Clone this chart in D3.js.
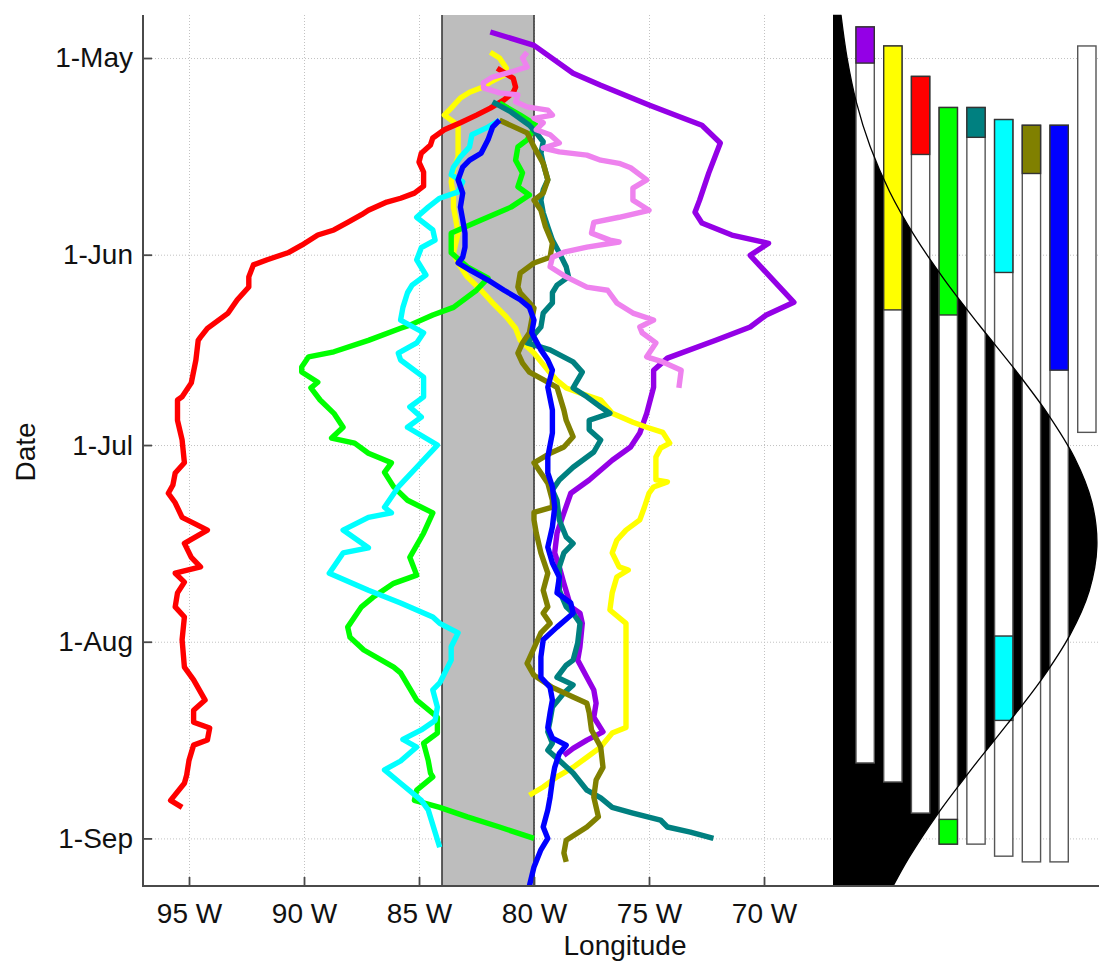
<!DOCTYPE html>
<html>
<head>
<meta charset="utf-8">
<script src="https://cdn.jsdelivr.net/npm/d3@7"></script>
<style>
  body { margin: 0; background: #fff; }
  svg { display: block; }
</style>
</head>
<body>
<svg id="chart" width="1099" height="968"></svg>
<script>
// ---- Axis ticks ----
const lonTicks = [95, 90, 85, 80, 75, 70];
const lonTickLabels = ["95 W", "90 W", "85 W", "80 W", "75 W", "70 W"];
const dateTickDays = [0, 31, 61, 92, 123];          // days since 1 May
const dateTickLabels = ["1-May", "1-Jun", "1-Jul", "1-Aug", "1-Sep"];
const bandLon = [84, 80];                            // shaded longitude band (deg W)

// ---- Tracks: [longitude deg W, days since 1 May] ----
const purpleTrack = [[81.9,-4.1],[80.0,-2.0],[78.3,2.4],[77.1,4.3],[75.0,7.4],[73.5,9.5],[72.7,10.6],[71.9,13.4],[72.4,18.1],[72.8,22.4],[73.0,24.3],[72.7,26.0],[71.4,27.9],[69.8,29.2],[70.6,31.1],[69.6,35.0],[68.7,38.5],[69.9,40.5],[70.6,42.4],[72.1,44.5],[74.2,47.3],[74.8,49.2],[74.8,51.9],[75.1,56.0],[75.4,59.1],[75.8,61.3],[76.6,63.4],[77.6,66.5],[78.4,68.6],[78.7,71.7],[79.0,74.9],[79.1,78.0],[78.9,80.2],[78.7,82.8],[78.4,86.5],[78.0,87.5],[77.9,89.1],[78.0,92.8],[78.1,94.9],[77.7,97.6],[77.4,99.6],[77.3,101.7],[77.4,103.9],[77.0,106.2],[77.7,107.5],[78.3,108.8],[78.7,109.9]];

const yellowTrack = [[81.9,-0.9],[81.5,0],[81.2,1.6],[81.3,2.7],[81.9,3.8],[82.3,4.7],[82.8,5.4],[83.2,6.3],[83.6,7.9],[83.9,9.0],[83.6,9.8],[83.3,10.6],[83.3,12.9],[83.3,15.6],[83.5,17.7],[83.6,19.5],[83.5,21.9],[83.5,23.5],[83.4,25.5],[83.3,27.6],[83.4,29.2],[83.5,30.7],[83.3,32.3],[82.9,34.5],[82.3,36.6],[81.8,38.6],[81.2,40.8],[80.8,42.6],[80.6,44.5],[80.0,46.5],[79.4,49.2],[79.0,50.8],[78.6,52.0],[78.0,52.8],[77.1,53.9],[76.6,56.0],[75.7,57.4],[75.1,58.2],[74.4,59.0],[74.1,60.7],[74.5,61.5],[74.7,62.9],[74.7,64.9],[74.7,66.5],[74.2,66.8],[74.8,67.6],[75.0,68.6],[75.2,70.8],[75.4,72.8],[76.0,74.4],[76.4,76.0],[76.6,78.0],[76.3,80.2],[75.9,80.7],[76.4,81.8],[76.6,84.3],[76.7,87.0],[76.0,89.1],[76.0,98.0],[76.0,105.5],[76.6,106.4],[77.1,108.6],[77.7,110.2],[78.3,111.8],[79.0,113.3],[79.6,114.9],[80.2,116.2]];

const redTrack = [[81.6,1.6],[80.9,3.2],[80.8,4.6],[80.9,5.4],[81.3,6.6],[81.9,7.9],[82.5,9.0],[83.2,10.2],[83.9,11.3],[84.4,12.6],[84.5,13.7],[84.9,15.0],[85.0,16.4],[84.8,18.0],[84.8,20.2],[85.2,21.3],[85.8,22.1],[86.4,22.7],[87.2,24.0],[87.5,24.7],[88.1,25.9],[88.7,27.1],[89.4,27.9],[90.1,29.5],[90.7,30.7],[91.6,31.8],[92.2,32.6],[92.4,34.5],[92.4,36.1],[92.9,38.1],[93.3,40.2],[94.2,42.6],[94.5,44.0],[94.6,44.5],[94.7,47.6],[94.9,51.2],[95.3,53.4],[95.5,53.9],[95.5,57.1],[95.3,60.2],[95.2,63.8],[95.6,65.4],[95.7,67.3],[95.9,68.6],[95.6,70.1],[95.3,72.4],[94.8,73.3],[94.2,74.4],[95.2,76.5],[94.9,78.7],[94.5,80.2],[95.6,81.2],[95.2,82.6],[95.5,84.3],[95.6,86.5],[95.2,88.1],[95.3,91.7],[95.2,96.0],[94.8,98.0],[94.3,101.2],[94.8,102.8],[94.8,104.7],[94.1,105.6],[94.2,107.5],[94.8,108.3],[95.0,110.7],[95.1,113.0],[95.2,114.3],[95.8,117.0],[95.3,118.1]];

const greenTrack = [[81.5,7.1],[80.6,9.0],[79.9,10.6],[80.3,12.9],[80.7,14.0],[80.8,16.1],[80.5,18.1],[80.7,20.3],[80.2,21.6],[81.0,23.5],[82.6,26.0],[83.6,27.6],[83.6,30.7],[82.9,32.9],[82.0,34.7],[82.5,36.6],[83.5,39.3],[84.4,40.5],[85.4,42.1],[85.8,42.6],[87.2,44.5],[88.7,46.3],[89.8,47.1],[90.1,48.7],[90.1,49.5],[89.4,51.1],[89.7,52.0],[89.3,53.9],[88.7,56.0],[88.3,58.2],[88.8,59.9],[87.8,60.7],[87.2,62.3],[86.2,63.8],[86.5,65.3],[86.1,67.6],[85.5,69.7],[84.4,71.7],[84.8,74.9],[85.4,78.7],[85.1,81.5],[86.1,82.8],[87.0,85.0],[87.5,86.5],[88.1,89.7],[88.0,91.3],[87.4,93.3],[86.1,96.0],[85.8,96.9],[85.1,101.2],[84.2,103.9],[84.2,106.4],[84.8,108.0],[84.6,110.7],[84.5,112.7],[84.4,113.3],[85.1,115.4],[85.2,117.0],[84.1,118.1],[82.9,119.6],[81.5,121.2],[80.0,123.0]];

const tealTrack = [[81.8,6.9],[81.0,8.5],[80.2,10.6],[79.9,11.8],[79.6,13.2],[79.7,15.0],[79.6,16.6],[79.4,19.2],[79.6,20.8],[79.7,22.4],[79.6,24.4],[79.4,26.6],[79.2,28.7],[78.9,30.7],[78.6,32.9],[78.5,34.5],[79.0,35.8],[79.2,37.0],[79.2,38.6],[79.6,40.2],[79.7,42.4],[80.3,44.9],[79.3,46.0],[78.3,47.9],[77.9,49.5],[78.3,52.0],[77.7,53.4],[77.1,55.0],[76.7,56.0],[77.6,57.1],[77.6,58.6],[77.1,60.2],[77.4,62.1],[78.3,64.5],[78.9,66.5],[79.2,68.1],[79.0,69.7],[78.9,72.8],[78.6,75.5],[78.3,76.5],[78.7,78.0],[78.9,80.2],[78.9,83.9],[78.6,86.5],[78.3,87.5],[78.0,89.1],[78.1,92.2],[78.3,94.9],[78.6,95.7],[79.0,97.6],[78.3,98.8],[78.7,100.1],[79.2,102.3],[79.3,104.4],[79.4,106.2],[79.2,108.0],[79.4,109.1],[78.9,110.7],[78.3,112.7],[77.7,115.4],[77.1,116.6],[76.6,118.1],[75.7,119.0],[74.5,120.1],[74.2,121.2],[73.2,122.0],[72.2,123.0]];

const cyanTrack = [[81.5,9.8],[82.0,10.9],[82.7,12.1],[82.8,14.0],[83.2,15.6],[83.5,17.2],[83.6,18.4],[83.1,19.5],[83.3,21.1],[84.1,22.1],[84.6,23.5],[85.1,25.1],[84.4,27.1],[84.3,28.7],[84.9,29.9],[85.1,31.8],[84.7,34.2],[85.3,35.8],[85.5,37.0],[85.7,39.3],[85.8,41.3],[84.8,43.3],[85.1,44.9],[85.9,46.5],[85.8,47.6],[84.8,50.3],[84.8,53.4],[85.4,55.0],[84.9,56.6],[85.5,58.2],[84.2,61.0],[85.1,64.5],[85.9,67.6],[86.5,70.8],[86.2,71.7],[87.2,72.4],[88.3,74.4],[87.2,77.2],[88.3,78.0],[88.9,81.2],[87.2,83.9],[85.8,85.9],[84.4,88.1],[84.1,89.1],[83.3,90.6],[83.6,92.8],[83.6,94.9],[84.1,98.5],[84.4,99.6],[84.2,102.3],[84.3,104.4],[84.9,105.9],[85.7,107.4],[85.1,108.6],[85.8,110.8],[86.5,112.2],[85.8,114.3],[84.9,117.0],[84.6,118.5],[84.1,124.4]];

const oliveTrack = [[81.5,9.8],[80.3,11.8],[80.0,14.0],[79.6,16.6],[79.4,19.2],[79.6,21.3],[80.0,22.4],[79.7,24.0],[79.5,26.6],[79.2,29.2],[79.3,31.4],[80.0,32.3],[80.6,33.9],[80.7,36.1],[80.6,37.0],[80.2,38.6],[80.0,39.4],[80.1,41.3],[80.2,43.3],[80.5,44.9],[80.7,46.5],[80.5,48.1],[80.2,49.5],[79.4,51.1],[79.0,51.9],[78.7,55.5],[78.6,57.1],[78.3,59.7],[78.7,61.3],[79.3,62.3],[80.0,63.8],[79.7,65.4],[79.4,67.0],[79.2,69.7],[79.2,70.8],[80.0,71.6],[80.0,72.8],[79.9,74.9],[79.7,78.0],[79.4,81.2],[79.6,83.9],[79.4,86.5],[79.6,87.5],[79.3,89.1],[79.7,90.6],[79.9,92.2],[80.3,95.4],[80.0,97.3],[79.2,99.2],[78.3,100.7],[77.7,101.7],[77.6,103.2],[77.5,105.9],[77.1,108.6],[77.0,111.8],[77.3,113.8],[77.4,116.5],[77.2,119.6],[77.7,121.2],[78.6,123.3],[78.7,125.3],[78.6,126.7]];

const blueTrack = [[81.5,9.8],[81.8,10.9],[82.0,12.9],[82.3,15.0],[82.8,16.1],[83.1,17.2],[83.3,19.2],[83.1,21.3],[83.2,23.5],[83.1,25.5],[83.0,27.6],[83.0,29.8],[83.1,31.4],[83.3,32.3],[82.8,33.4],[82.0,35.0],[81.3,36.6],[80.6,38.1],[80.2,39.3],[80.0,41.3],[80.1,43.3],[79.7,46.0],[79.4,47.6],[79.2,49.2],[79.4,51.9],[79.2,55.5],[79.2,59.1],[79.4,62.9],[79.4,65.4],[79.2,67.6],[79.1,70.8],[79.2,73.9],[79.4,77.1],[79.2,79.6],[78.9,81.8],[79.0,84.3],[78.4,85.9],[78.3,87.5],[79.0,89.7],[79.6,91.7],[79.7,94.4],[79.7,97.6],[79.3,99.2],[79.2,101.2],[79.3,103.2],[79.4,105.5],[79.2,107.2],[78.6,108.3],[78.9,109.6],[79.1,111.8],[79.2,113.8],[79.3,116.5],[79.4,118.5],[79.6,121.2],[79.4,123.0],[79.7,124.8],[80.0,127.5],[80.2,130.5]];

const violetTrack = [[80.3,-0.9],[80.5,0],[80.3,1.4],[81.0,2.2],[81.8,3.0],[82.2,3.9],[82.2,4.7],[81.5,5.5],[80.7,5.8],[80.8,6.9],[80.3,7.7],[79.4,8.2],[79.2,9.0],[80.0,9.5],[79.6,10.2],[79.9,11.3],[79.3,12.1],[78.9,13.4],[79.6,14.2],[78.9,14.8],[77.7,15.3],[77.1,16.1],[76.3,16.6],[75.8,17.3],[75.1,19.2],[75.7,20.5],[75.7,22.4],[75.0,24.0],[76.3,25.1],[77.4,25.9],[77.5,27.6],[76.7,28.7],[76.3,29.0],[77.7,29.8],[78.7,30.6],[79.2,31.4],[79.3,32.9],[78.6,34.5],[77.7,36.1],[76.8,36.6],[76.4,38.6],[75.7,40.2],[74.8,41.3],[75.4,42.4],[75.3,43.3],[74.7,44.9],[75.1,47.1],[74.4,47.9],[73.6,49.2],[73.7,52.0]];

// Drawing order and colours (same order as the bars on the right)
const tracks = [purpleTrack, yellowTrack, redTrack, greenTrack, tealTrack, cyanTrack, oliveTrack, blueTrack, violetTrack];
const trackColors = ["#9400e6", "#ffff00", "#ff0000", "#00ff00", "#008080", "#00ffff", "#808000", "#0000ff", "#ee82ee"];

// ---- Lifetime bars (days since 1 May) and coloured periods inside the band ----
const barStart = [-4.9, -1.9, 2.9, 7.8, 7.8, 9.7, 10.6, 10.6, -1.9];
const barEnd   = [111.1, 114.1, 119.0, 123.9, 123.9, 125.8, 126.7, 126.7, 59.0];
const barSegments = [
  [[-4.9, 0.8]],
  [[-1.9, 39.7]],
  [[2.9, 15.2]],
  [[7.8, 40.5], [120.0, 123.9]],
  [[7.8, 12.5]],
  [[9.7, 33.8], [91.1, 104.4]],
  [[10.6, 18.2]],
  [[10.6, 49.2]],
  []
];
const barFill = ["#9400e6", "#ffff00", "#ff0000", "#00ff00", "#008080", "#00ffff", "#808000", "#0000ff", "#ffffff"];

// ---- Seasonal frequency profile (relative) ----
const seasonDays = [-6.8, 0, 7, 14, 21, 28, 35, 42, 49, 56, 63, 70, 77, 84, 91, 98, 105, 112, 119, 126, 130.5];
const seasonFreq = [0.030, 0.053, 0.088, 0.140, 0.212, 0.306, 0.420, 0.548, 0.682, 0.806, 0.908, 0.973, 0.992, 0.963, 0.890, 0.783, 0.655, 0.522, 0.396, 0.286, 0.226];

// ---- Layout ----
const FONT = '"Liberation Sans", Arial, Helvetica, sans-serif';
const plot = { left: 143, right: 833, top: 15, bottom: 886 };
const side = { left: 833, right: 1099 };
const AXIS = "#4a4a4a";

const svg = d3.select("#chart");

const x = d3.scaleLinear().domain([97, 67]).range([plot.left, plot.right]);
const y = d3.scaleLinear().domain([-6.78, 130.5]).range([plot.top, plot.bottom]);
const fx = d3.scaleLinear().domain([0, 1]).range([side.left, side.right]);
const bx = d3.scaleBand().domain(d3.range(barStart.length)).range([856, 1096]).paddingInner(0.34).paddingOuter(0);

// Grid
const grid = svg.append("g").attr("stroke", "#c2c2c2").attr("stroke-width", 1).attr("stroke-dasharray", "1,2");
grid.selectAll("line.v").data(lonTicks).join("line").attr("class", "v")
  .attr("x1", d => x(d) + 0.5).attr("x2", d => x(d) + 0.5)
  .attr("y1", plot.top).attr("y2", plot.bottom);
grid.selectAll("line.h").data(dateTickDays).join("line").attr("class", "h")
  .attr("x1", plot.left).attr("x2", side.right)
  .attr("y1", d => y(d) + 0.5).attr("y2", d => y(d) + 0.5);

// Shaded longitude band
svg.append("rect")
  .attr("x", x(bandLon[0])).attr("y", plot.top)
  .attr("width", x(bandLon[1]) - x(bandLon[0])).attr("height", plot.bottom - plot.top)
  .attr("fill", "#bdbdbd");
svg.append("g").attr("stroke", "#3a3a3a").attr("stroke-width", 1.6)
  .selectAll("line").data(bandLon).join("line")
  .attr("x1", d => x(d)).attr("x2", d => x(d))
  .attr("y1", plot.top).attr("y2", plot.bottom);

// Tracks
svg.append("clipPath").attr("id", "plotClip").append("rect")
  .attr("x", plot.left).attr("y", plot.top)
  .attr("width", plot.right - plot.left).attr("height", plot.bottom - plot.top);

const line = d3.line().x(d => x(d[0])).y(d => y(d[1]));
svg.append("g").attr("clip-path", "url(#plotClip)")
  .selectAll("path").data(tracks).join("path")
  .attr("d", line)
  .attr("fill", "none")
  .attr("stroke", (d, i) => trackColors[i])
  .attr("stroke-width", 5.4)
  .attr("stroke-linejoin", "round")
  .attr("stroke-linecap", "butt");

// Seasonal profile (filled) on the right
const season = seasonDays.map((d, i) => [d, seasonFreq[i]]);
const area = d3.area()
  .y(d => y(d[0]))
  .x0(fx(0))
  .x1(d => fx(d[1]))
  .curve(d3.curveCatmullRom);
svg.append("path").datum(season).attr("d", area).attr("fill", "#000");

// Lifetime bars
const bars = svg.append("g");
bars.selectAll("rect.life").data(d3.range(barStart.length)).join("rect").attr("class", "life")
  .attr("x", i => bx(i)).attr("width", bx.bandwidth())
  .attr("y", i => y(barStart[i])).attr("height", i => y(barEnd[i]) - y(barStart[i]))
  .attr("fill", "#fff").attr("stroke", "#555").attr("stroke-width", 1.4);

const segs = [];
barSegments.forEach((list, i) => list.forEach(s => segs.push({ i, s })));
bars.selectAll("rect.seg").data(segs).join("rect").attr("class", "seg")
  .attr("x", d => bx(d.i)).attr("width", bx.bandwidth())
  .attr("y", d => y(d.s[0])).attr("height", d => y(d.s[1]) - y(d.s[0]))
  .attr("fill", d => barFill[d.i]).attr("stroke", "#333").attr("stroke-width", 1.4);

// Profile outline drawn over the bars
svg.append("path").datum(season)
  .attr("d", d3.line().y(d => y(d[0])).x(d => fx(d[1])).curve(d3.curveCatmullRom))
  .attr("fill", "none").attr("stroke", "#000").attr("stroke-width", 1.3);

// Axes
const xAxis = d3.axisBottom(x).tickValues(lonTicks).tickFormat((d, i) => lonTickLabels[i])
  .tickSizeInner(-9).tickSizeOuter(0).tickPadding(17);
const gx = svg.append("g").attr("transform", `translate(0,${plot.bottom})`).call(xAxis);

const yAxis = d3.axisLeft(y).tickValues(dateTickDays).tickFormat((d, i) => dateTickLabels[i])
  .tickSizeInner(-9).tickSizeOuter(0).tickPadding(10);
const gy = svg.append("g").attr("transform", `translate(${plot.left},0)`).call(yAxis);

[gx, gy].forEach(g => {
  g.select(".domain").remove();
  g.attr("font-family", FONT).attr("font-size", 28);
  g.selectAll(".tick line").attr("stroke", AXIS).attr("stroke-width", 1.8);
  g.selectAll(".tick text").attr("fill", "#111");
});

// Axis lines
svg.append("line").attr("x1", plot.left).attr("x2", plot.left)
  .attr("y1", plot.top).attr("y2", plot.bottom)
  .attr("stroke", AXIS).attr("stroke-width", 2);
svg.append("line").attr("x1", plot.left - 1).attr("x2", side.right)
  .attr("y1", plot.bottom).attr("y2", plot.bottom)
  .attr("stroke", AXIS).attr("stroke-width", 2);

// Axis titles
svg.append("text").attr("transform", "translate(35,452) rotate(-90)")
  .attr("text-anchor", "middle").attr("font-family", FONT).attr("font-size", 28).attr("fill", "#111")
  .text("Date");
svg.append("text").attr("x", 625).attr("y", 955)
  .attr("text-anchor", "middle").attr("font-family", FONT).attr("font-size", 28).attr("fill", "#111")
  .text("Longitude");
</script>
</body>
</html>
